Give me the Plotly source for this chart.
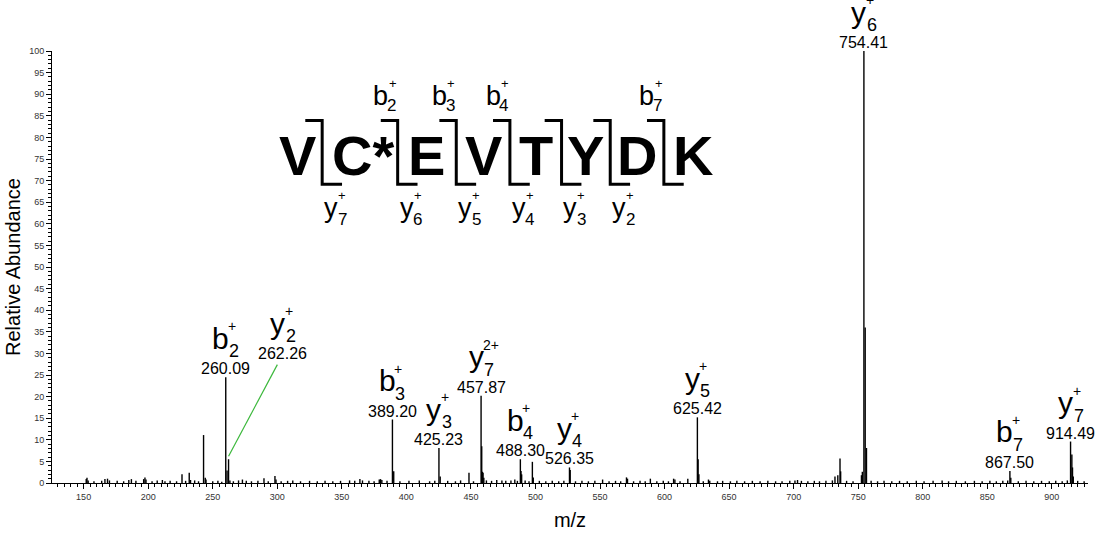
import plotly.graph_objects as go

# ---- Spectrum: m/z and relative abundance (%) ----
mz = [
    152.0, 152.6, 153.5, 158.0, 164.0, 166.5, 168.5, 170.0, 176.0, 181.0,
    185.0, 187.0, 190.5, 196.5, 197.5, 198.3, 203.0, 207.0, 211.0, 213.0,
    217.0, 222.0, 226.2, 229.0, 231.8, 232.8, 236.0, 239.0, 242.9, 244.2,
    244.8, 250.0, 254.0, 257.0, 260.09, 261.1, 262.26, 263.3, 266.0, 270.0,
    273.0, 276.0, 280.0, 285.0, 289.7, 293.0, 298.2, 299.0, 303.0, 308.0,
    312.0, 318.0, 325.0, 331.0, 337.0, 343.0, 349.0, 356.0, 360.0, 364.0,
    366.0, 371.0, 375.0, 379.0, 380.0, 381.0, 385.0, 389.20, 390.2, 395.0,
    402.0, 410.0, 418.0, 422.0, 425.23, 426.2, 432.0, 438.0, 442.0, 448.5,
    452.0, 457.87, 458.37, 458.9, 459.4, 460.0, 462.0, 466.0, 470.0, 474.0,
    477.0, 481.0, 484.0, 486.0, 488.30, 488.8, 489.3, 492.0, 495.0, 497.6,
    498.3, 503.0, 508.0, 513.0, 518.0, 522.0, 526.35, 526.9, 531.0, 536.0,
    541.0, 546.0, 552.0, 557.0, 562.0, 566.0, 570.5, 571.3, 576.0, 581.0,
    585.0, 589.0, 594.0, 599.0, 603.0, 607.0, 608.0, 612.0, 618.0, 625.42,
    626.0, 626.6, 630.0, 634.0, 635.0, 641.0, 645.0, 651.0, 656.0, 662.0,
    668.0, 674.0, 680.0, 686.0, 691.0, 697.0, 701.0, 703.0, 706.0, 711.0,
    716.0, 720.0, 725.0, 730.0, 732.0, 734.2, 735.9, 736.4, 741.0, 746.0,
    752.5, 753.2, 754.41, 755.41, 756.41, 760.0, 765.0, 770.0, 776.0, 782.0,
    788.0, 795.0, 801.0, 808.0, 815.0, 820.0, 826.0, 833.0, 840.0, 846.0,
    852.0, 857.0, 862.0, 865.8, 867.50, 868.2, 874.0, 880.0, 886.0, 892.0,
    898.0, 903.0, 908.0, 912.0, 914.49, 915.5, 916.0, 916.6, 920.0, 925.0,
]
intensity = [
    0.9, 1.2, 0.6, 0.4, 0.5, 0.9, 1.0, 0.6, 0.5, 0.4,
    0.7, 0.9, 0.5, 0.9, 1.3, 0.8, 0.4, 0.6, 0.7, 0.4,
    0.5, 0.4, 2.0, 0.5, 2.4, 0.7, 0.6, 0.4, 11.1, 1.2,
    0.8, 0.4, 0.5, 0.3, 24.5, 2.9, 5.5, 0.6, 0.4, 0.6,
    0.8, 0.5, 0.4, 0.5, 1.1, 0.4, 1.6, 0.8, 0.4, 0.5,
    0.6, 0.4, 0.5, 0.4, 0.5, 0.4, 0.5, 0.6, 0.5, 0.9,
    0.6, 0.5, 0.4, 0.8, 0.9, 0.7, 0.5, 14.7, 2.7, 0.4,
    0.5, 0.6, 0.4, 0.5, 8.1, 1.5, 0.5, 0.4, 0.6, 2.4,
    0.4, 20.2, 8.5, 2.6, 2.4, 1.2, 0.6, 0.5, 0.7, 0.6,
    0.5, 0.6, 0.8, 0.5, 5.5, 2.8, 2.0, 0.6, 0.4, 4.9,
    1.3, 0.5, 0.4, 0.5, 0.4, 0.5, 3.6, 3.0, 0.4, 0.5,
    0.4, 0.5, 0.8, 0.4, 0.5, 0.4, 1.3, 1.0, 0.4, 0.5,
    0.4, 1.0, 0.4, 0.5, 0.4, 1.0, 0.8, 0.4, 1.0, 15.2,
    5.5, 2.0, 0.4, 0.8, 0.5, 0.4, 0.5, 0.4, 0.5, 0.4,
    0.5, 0.4, 0.5, 0.4, 0.4, 0.5, 0.6, 0.7, 0.5, 0.4,
    0.5, 0.4, 0.5, 0.6, 1.5, 1.8, 5.7, 2.7, 0.5, 0.4,
    1.8, 2.6, 100.0, 36.0, 8.1, 0.5, 0.4, 0.5, 0.4, 0.5,
    0.4, 0.5, 0.4, 0.5, 0.6, 0.4, 0.5, 0.4, 0.5, 0.4,
    0.5, 0.4, 0.5, 0.6, 2.8, 1.2, 0.4, 0.5, 0.4, 0.5,
    0.4, 0.5, 0.4, 0.6, 9.6, 6.6, 3.6, 1.5, 0.5, 0.4,
]

# ---- Annotated fragment ions ----
ion_mz = [260.09, 262.26, 389.20, 425.23, 457.87, 488.30, 526.35, 625.42, 754.41, 867.50, 914.49]
ion_int = [24.5, 5.5, 14.7, 8.1, 20.2, 5.5, 3.6, 15.2, 100.0, 2.8, 9.6]
ion_type = ["b", "y", "b", "y", "y", "b", "y", "y", "y", "b", "y"]
ion_index = ["2", "2", "3", "3", "7", "4", "4", "5", "6", "7", "7"]
ion_charge = ["+", "+", "+", "+", "2+", "+", "+", "+", "+", "+", "+"]

# ---- Peptide sequence and observed cleavages ----
residues = ["V", "C*", "E", "V", "T", "Y", "D", "K"]
b_seen = [2, 3, 4, 7]
y_seen = [7, 6, 5, 4, 3, 2]

x_ticks = list(range(150, 901, 50))
y_ticks = list(range(0, 101, 5))

# ---- geometry ----
W, H = 1102, 540
ML, MR, MT, MB = 45, 14, 51, 49
XR = [125.5, 928.0]
YR = [0, 100]
PW, PH = W - ML - MR, H - MT - MB
FONT = "Liberation Sans, Arial, sans-serif"


def pxx(px):
    return (px - ML) / PW


def pxy(py):
    return (H - MB - py) / PH


# stick spectrum built as vertical segments
sx, sy = [], []
for m, h in zip(mz, intensity):
    sx += [m, m, None]
    sy += [0, h, None]

fig = go.Figure()
fig.add_trace(go.Scatter(x=sx, y=sy, mode="lines",
                         line=dict(color="black", width=1.4),
                         hoverinfo="skip", showlegend=False))

annotations = []
shapes = []

# leader-line offset for the crowded y2 label (data units)
label_offset = {262.26: (42.0, 22.4)}

for m, h, t, n, z in zip(ion_mz, ion_int, ion_type, ion_index, ion_charge):
    ax, ay = m, h
    if m in label_offset:
        dx, dy = label_offset[m]
        ax, ay = m + dx, h + dy
        fig.add_trace(go.Scatter(x=[m, ax - 4.2], y=[h + 0.7, ay - 0.5], mode="lines",
                                 line=dict(color="#3cb83c", width=1.2),
                                 hoverinfo="skip", showlegend=False))
    common = dict(x=ax, y=ay, xref="x", yref="y", showarrow=False, yanchor="middle")
    annotations.append(dict(text=f"{m:.2f}", xanchor="center", yshift=8.5,
                            font=dict(family=FONT, size=16, color="black"), **common))
    annotations.append(dict(text=t, xanchor="center", xshift=-5, yshift=39,
                            font=dict(family=FONT, size=30, color="black"), **common))
    annotations.append(dict(text=n, xanchor="left", xshift=1, yshift=26,
                            font=dict(family=FONT, size=18, color="black"), **common))
    annotations.append(dict(text=z, xanchor="left", xshift=0, yshift=51,
                            font=dict(family=FONT, size=14, color="black"), **common))

# sequence letters
letter_px = [291.7, 358.0, 422.5, 479.0, 532.0, 582.5, 634.0, 690.7]
cut_px = [317, 393, 452, 506, 558, 607, 661]
SEQ_CY = 157
TOP_Y, BOT_Y = 121.7, 186.7

for r, cx in zip(residues, letter_px):
    annotations.append(dict(text=f"<b>{r}</b>", x=pxx(cx), y=pxy(SEQ_CY), xref="paper", yref="paper",
                            showarrow=False, xanchor="center", yanchor="middle",
                            font=dict(family=FONT, size=56, color="black")))

for i, vx in enumerate(cut_px):
    path = (f"M {pxx(vx - 17)} {pxy(TOP_Y)} L {pxx(vx)} {pxy(TOP_Y)} "
            f"L {pxx(vx)} {pxy(BOT_Y)} L {pxx(vx + 20)} {pxy(BOT_Y)}")
    shapes.append(dict(type="path", path=path, xref="paper", yref="paper",
                       line=dict(color="black", width=3)))
    b_num = i + 1
    y_num = len(residues) - (i + 1)
    if b_num in b_seen:
        for txt, ox, oy, sz in [("b", -17, 96.5, 27), (str(b_num), -6, 107, 17), ("+", -5, 84, 13)]:
            annotations.append(dict(text=txt, x=pxx(vx + ox), y=pxy(oy), xref="paper", yref="paper",
                                    showarrow=False, xanchor="center", yanchor="middle",
                                    font=dict(family=FONT, size=sz, color="black")))
    if y_num in y_seen:
        for txt, ox, oy, sz in [("y", 9, 210.5, 27), (str(y_num), 20, 222.5, 17), ("+", 20, 198, 13)]:
            annotations.append(dict(text=txt, x=pxx(vx + ox), y=pxy(oy), xref="paper", yref="paper",
                                    showarrow=False, xanchor="center", yanchor="middle",
                                    font=dict(family=FONT, size=sz, color="black")))

fig.update_layout(
    width=W, height=H,
    margin=dict(l=ML, r=MR, t=MT, b=MB),
    paper_bgcolor="white", plot_bgcolor="white",
    font=dict(family=FONT, color="black"),
    annotations=annotations, shapes=shapes,
    xaxis=dict(range=XR, showline=True, linecolor="black", linewidth=1,
               ticks="outside", ticklen=5, tickwidth=1, tickcolor="black",
               tickvals=x_ticks, ticktext=[str(v) for v in x_ticks],
               tickfont=dict(family=FONT, size=9, color="#333"),
               minor=dict(dtick=5, tick0=0, ticks="outside", ticklen=3, tickcolor="black"),
               showgrid=False, zeroline=False,
               title=dict(text="m/z", font=dict(family=FONT, size=20), standoff=12)),
    yaxis=dict(range=YR, showline=True, linecolor="black", linewidth=1,
               ticks="outside", ticklen=5, tickwidth=1, tickcolor="black",
               tickvals=y_ticks, ticktext=[str(v) for v in y_ticks],
               tickfont=dict(family=FONT, size=9, color="#333"),
               minor=dict(dtick=1, tick0=0, ticks="outside", ticklen=3, tickcolor="black"),
               showgrid=False, zeroline=False,
               title=dict(text="Relative Abundance", font=dict(family=FONT, size=20), standoff=3)),
)

fig.write_html("out.html")
